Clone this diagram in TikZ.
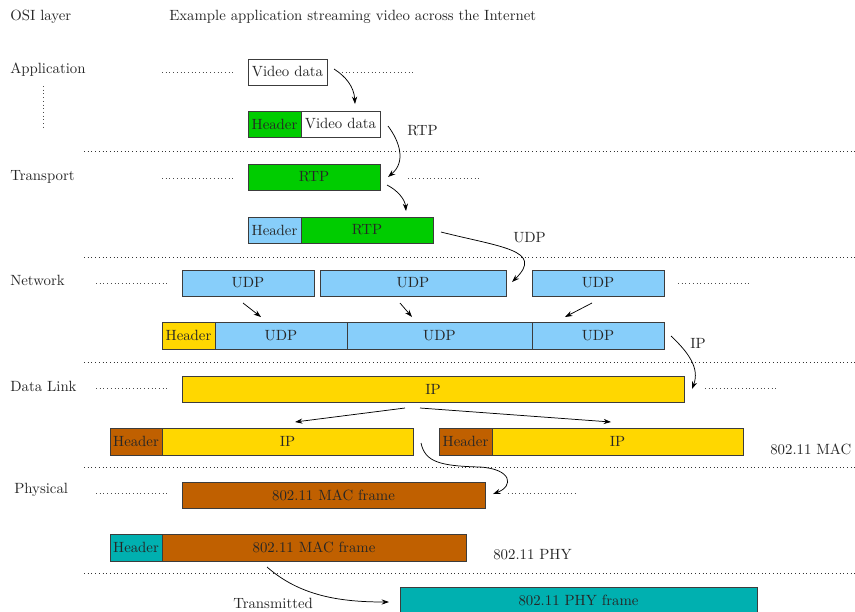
\documentclass[tikz,border=0pt]{standalone}
\usetikzlibrary{arrows.meta}
\definecolor{cgreen}{RGB}{0,204,0}
\definecolor{cblue}{RGB}{135,206,250}
\definecolor{cyellow}{RGB}{255,215,0}
\definecolor{cbrown}{RGB}{192,96,0}
\definecolor{cteal}{RGB}{0,176,176}
\definecolor{cline}{RGB}{60,60,60}
\tikzset{
  pbox/.style={draw=cline, line width=0.6pt, inner sep=0pt, outer sep=0pt, text=black!85},
  sep/.style={draw=black!80, dotted, line width=0.5pt},
  sdot/.style={draw=black!70, dotted, line width=0.5pt},
  lbl/.style={anchor=west, inner sep=0pt, text=black!85},
  conn/.style={draw=black, line width=0.5pt, -{Stealth[length=5pt,width=3.5pt]}},
}
\newcommand{\mybox}[7]{%
  \node[pbox, fill=#6, minimum width={(#4-#2)*0.675pt}, minimum height={(#5-#3)*0.675pt}]
    (#1) at ({(#2+#4)/2},{(#3+#5)/2}) {#7};}
\begin{document}
\begin{tikzpicture}[x=0.675pt,y=-0.675pt]
\useasboundingbox (0,0) rectangle (855,611);
% titles
\node[lbl] (t1) at (10,17) {OSI layer};
\node[lbl] (t2) at (169,17) {Example application streaming video across the Internet};
% layer labels
\node[lbl] (lapp) at (10,70) {Application};
\node[lbl] (ltra) at (10,177) {Transport};
\node[lbl] (lnet) at (10,280) {Network};
\node[lbl] (ldl) at (10,386) {Data Link};
\node[lbl] (lphy) at (14,490) {Physical};
\draw[sdot] (43,86) -- (43,130);
% separators
\foreach \yy in {151,257,362,467,573} \draw[sep] (84,\yy) -- (855,\yy);
% short dotted
\draw[sdot] (162,72) -- (233,72);
\draw[sdot] (342,72) -- (413,72);
\draw[sdot] (162,178) -- (233,178);
\draw[sdot] (408,178) -- (480,178);
\draw[sdot] (96,283) -- (168,283);
\draw[sdot] (678,283) -- (750,283);
\draw[sdot] (96,388) -- (168,388);
\draw[sdot] (705,388) -- (777,388);
\draw[sdot] (96,493) -- (168,493);
\draw[sdot] (508,493) -- (578,493);
% application
\mybox{vd}{248}{59}{327}{85}{white}{Video data}
\mybox{h1}{248}{111}{301}{137}{cgreen}{Header}
\mybox{vd2}{301}{111}{380}{137}{white}{Video data}
% transport
\mybox{rtp}{248}{164}{380}{190}{cgreen}{RTP}
\mybox{h2}{248}{217}{301}{243}{cblue}{Header}
\mybox{rtp2}{301}{217}{433}{243}{cgreen}{RTP}
% network
\mybox{u1}{182}{270}{314}{296}{cblue}{UDP}
\mybox{u2}{320}{270}{506}{296}{cblue}{UDP}
\mybox{u3}{532}{270}{664}{296}{cblue}{UDP}
\mybox{h3}{162}{322}{215}{349}{cyellow}{Header}
\mybox{v1}{215}{322}{347}{349}{cblue}{UDP}
\mybox{v2}{347}{322}{532}{349}{cblue}{UDP}
\mybox{v3}{532}{322}{664}{349}{cblue}{UDP}
% data link
\mybox{ip}{182}{376}{684}{402}{cyellow}{IP}
\mybox{h4}{110}{428}{162}{455}{cbrown}{Header}
\mybox{ip1}{162}{428}{413}{455}{cyellow}{IP}
\mybox{h5}{439}{428}{492}{455}{cbrown}{Header}
\mybox{ip2}{492}{428}{743}{455}{cyellow}{IP}
\node[lbl] (lmac) at (770,449) {802.11 MAC};
% physical
\mybox{mac}{182}{482}{485}{508}{cbrown}{802.11 MAC frame}
\mybox{h6}{110}{534}{162}{561}{cteal}{Header}
\mybox{mac2}{162}{534}{466}{561}{cbrown}{802.11 MAC frame}
\node[lbl] (lphy2) at (493,555) {802.11 PHY};
\node[lbl] (ltx) at (233,603) {Transmitted};
\mybox{phy}{400}{587}{757}{613}{cteal}{802.11 PHY frame}
% connector labels
\node[lbl] (lrtp) at (407,131) {RTP};
\node[lbl] (ludp) at (513,238) {UDP};
\node[lbl] (lip) at (690,343) {IP};
% coordinates for free ends
\coordinate (a1s) at (334,69);  \coordinate (a1e) at (355,104);
\coordinate (a2s) at (388,126); \coordinate (a2e) at (388,177);
\coordinate (a3s) at (387,185); \coordinate (a3e) at (406,211);
\coordinate (a4s) at (441,232); \coordinate (a4e) at (512,282);
\coordinate (b1s) at (243,303); \coordinate (b1e) at (261,317);
\coordinate (b2s) at (400,303); \coordinate (b2e) at (412,317);
\coordinate (b3s) at (592,303); \coordinate (b3e) at (565,317);
\coordinate (a6s) at (671,336); \coordinate (a6e) at (692,389);
\coordinate (c1s) at (405,408); \coordinate (c1e) at (295,422);
\coordinate (c2s) at (420,408); \coordinate (c2e) at (611,422);
\coordinate (a8s) at (421,443); \coordinate (a8m) at (480,467); \coordinate (a8e) at (493,494);
\coordinate (a9s) at (267,567); \coordinate (a9e) at (389,602);
% connectors
\draw[conn] (a1s) .. controls (345,76) and (354,86) .. (a1e);
\draw[conn] (a2s) .. controls (400,142) and (406,162) .. (a2e);
\draw[conn] (a3s) .. controls (397,190) and (405,199) .. (a3e);
\draw[conn] (a4s) .. controls (500,247) and (545,250) .. (a4e);
\draw[conn] (b1s) -- (b1e);
\draw[conn] (b2s) -- (b2e);
\draw[conn] (b3s) -- (b3e);
\draw[conn] (a6s) .. controls (688,352) and (700,368) .. (a6e);
\draw[conn] (c1s) -- (c1e);
\draw[conn] (c2s) -- (c2e);
\draw[conn] (a8s) .. controls (425,462) and (440,466) .. (a8m) .. controls (512,469) and (514,486) .. (a8e);
\draw[conn] (a9s) .. controls (300,596) and (340,602) .. (a9e);
\end{tikzpicture}
\end{document}
